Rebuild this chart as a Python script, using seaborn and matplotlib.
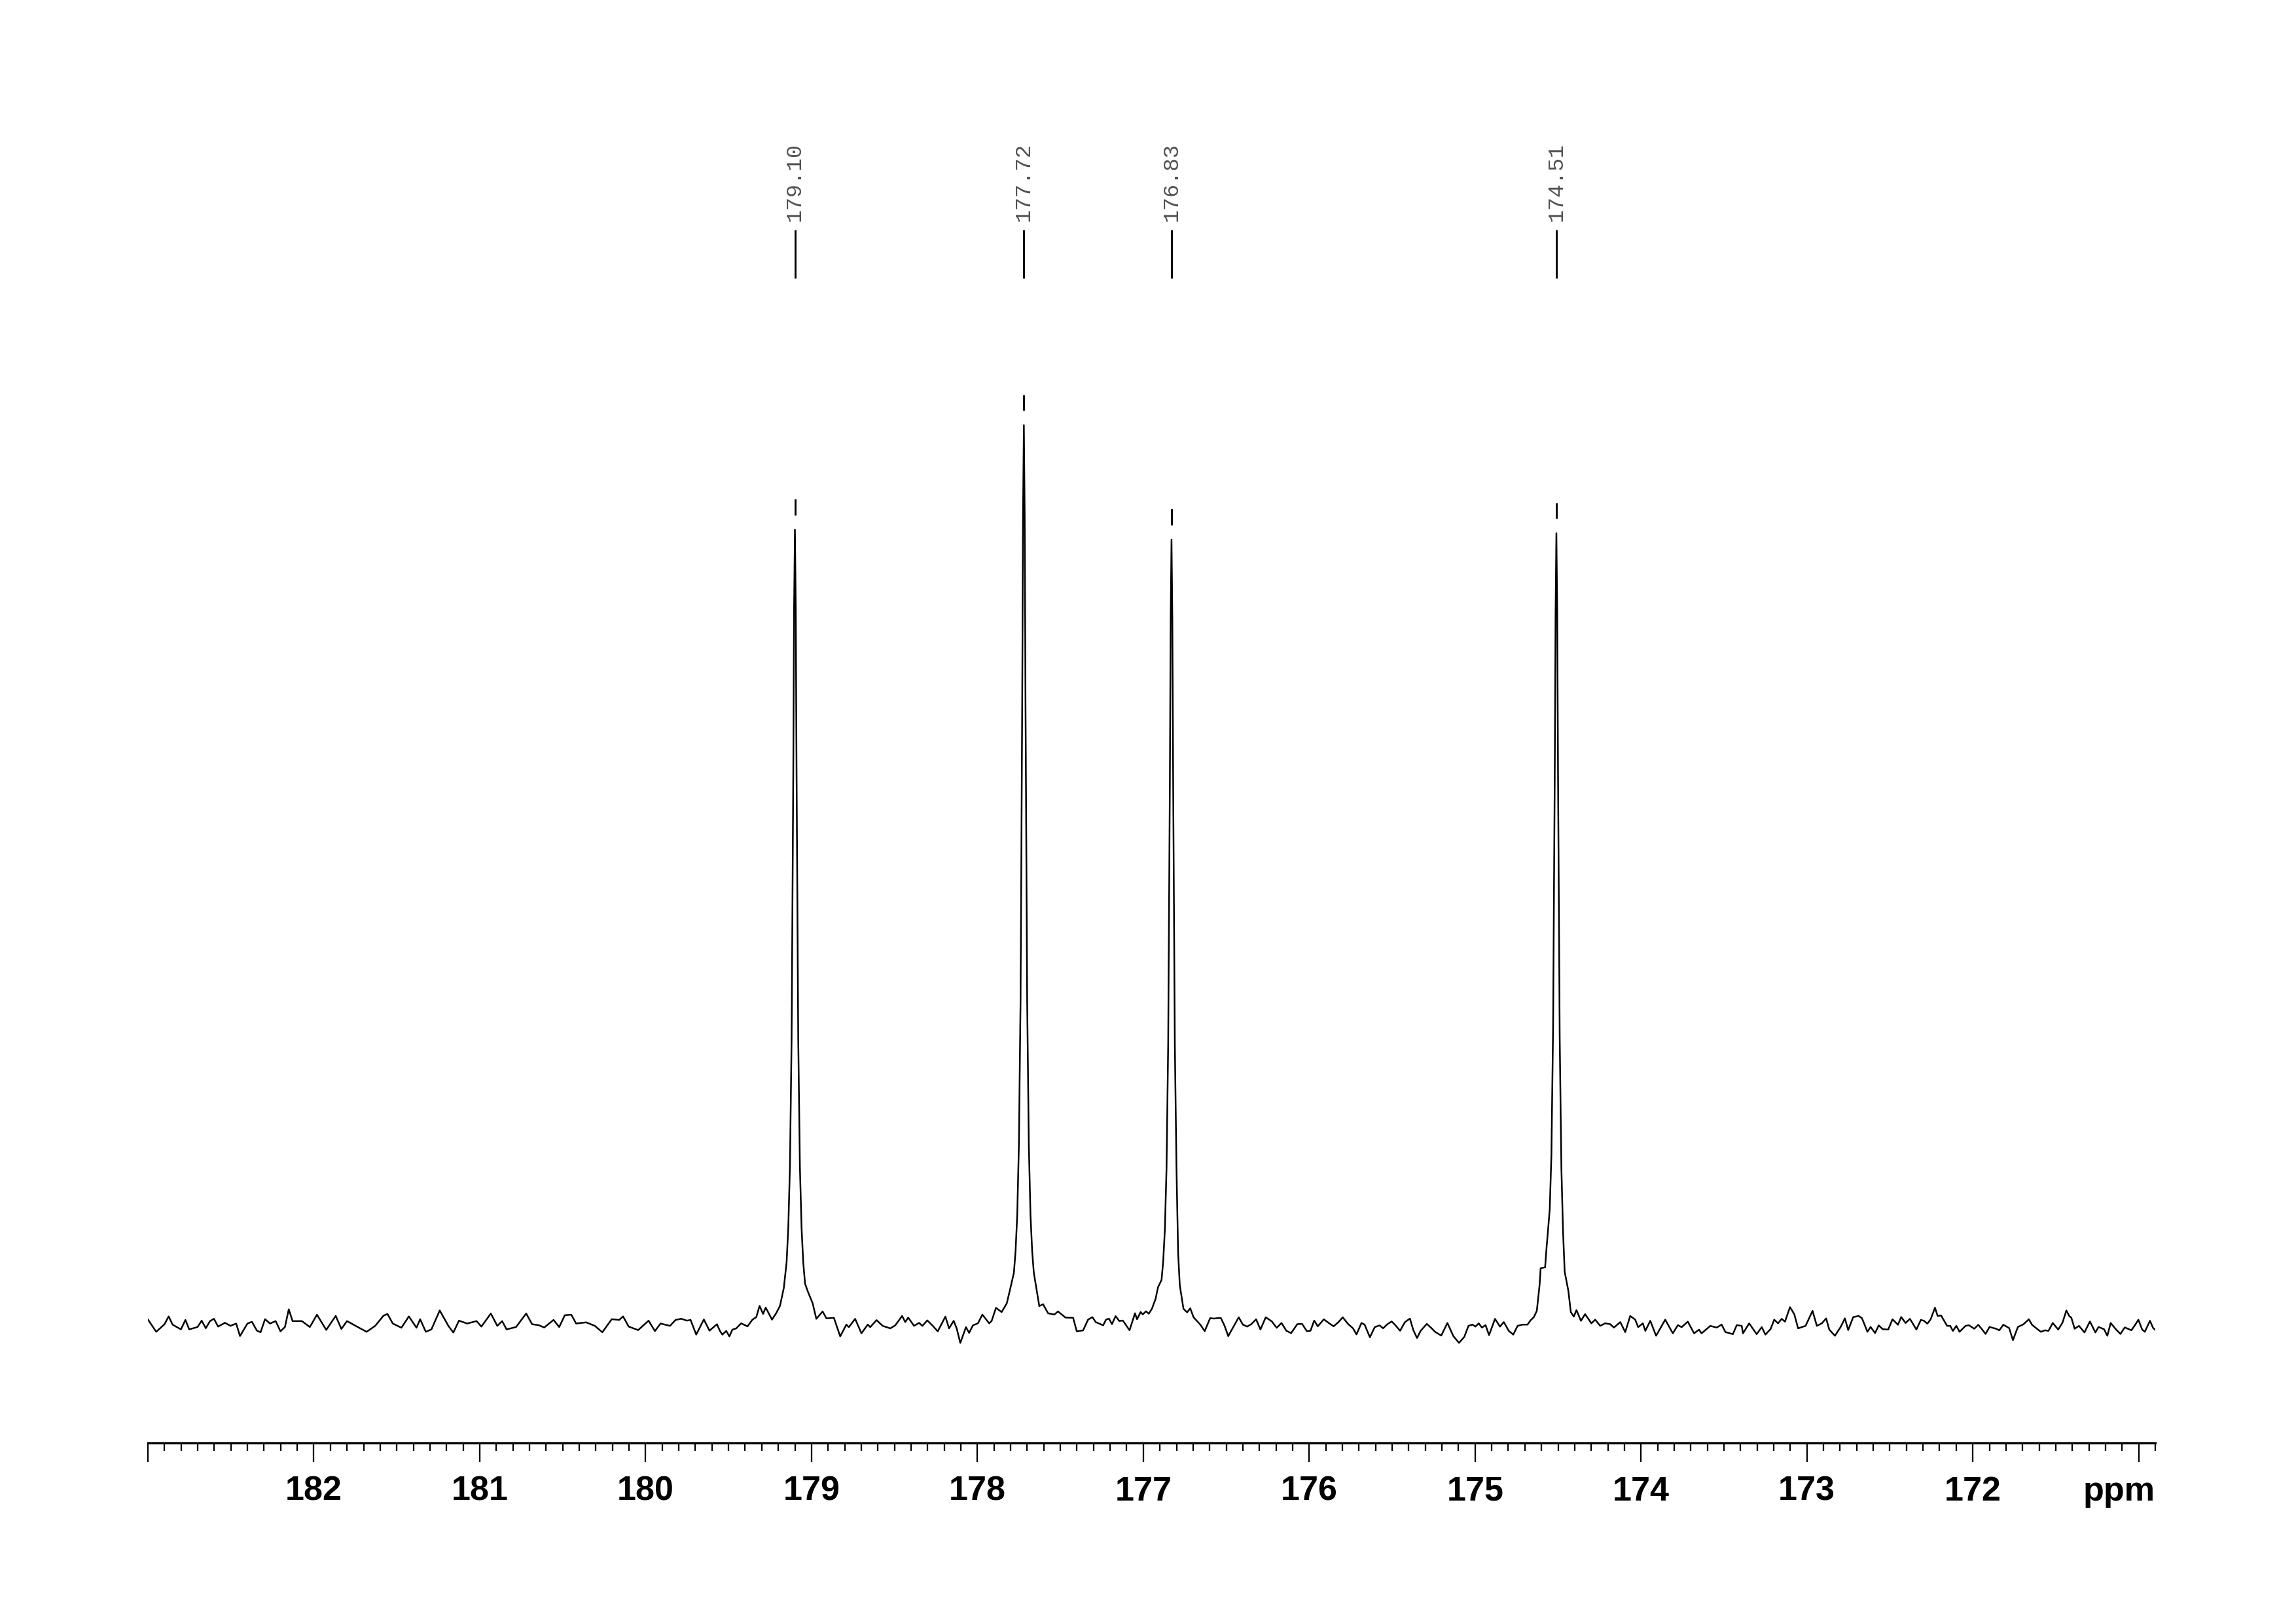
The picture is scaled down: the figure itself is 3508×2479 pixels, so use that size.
import numpy as np
import pandas as pd
import matplotlib
matplotlib.use("Agg")
import matplotlib.pyplot as plt
import seaborn as sns
from matplotlib.ticker import FixedLocator, MultipleLocator

# ---------------- data ----------------
# intensity scale: tallest peak (177.72 ppm) = 100, baseline = 0

# baseline 183.0 -> 179.57 ppm
base_a_ppm = [183.000, 182.950, 182.900, 182.875, 182.851, 182.801, 182.774, 182.751, 182.701, 182.676,
              182.651, 182.626, 182.602, 182.577, 182.536, 182.502, 182.468, 182.445, 182.400, 182.373,
              182.343, 182.321, 182.294, 182.264, 182.230, 182.201, 182.174, 182.151, 182.128, 182.072,
              182.024, 181.981, 181.925, 181.868, 181.834, 181.800, 181.743, 181.682, 181.630, 181.580,
              181.556, 181.524, 181.472, 181.427, 181.381, 181.359, 181.325, 181.291, 181.241, 181.189,
              181.159, 181.125, 181.076, 181.019, 180.990, 180.933, 180.894, 180.865, 180.838, 180.781,
              180.720, 180.684, 180.645, 180.611, 180.555, 180.521, 180.487, 180.448, 180.419, 180.358,
              180.306, 180.261, 180.204, 180.159, 180.136, 180.102, 180.045, 179.982, 179.944, 179.910,
              179.853, 179.819, 179.785, 179.751, 179.729, 179.695, 179.649, 179.615, 179.570]
base_a_int = [0.71, -0.66, 0.18, 1.05, 0.13, -0.39, 0.66, -0.39, -0.13, 0.58,
              -0.26, 0.53, 0.79, -0.08, 0.34, 0.00, 0.26, -1.13, 0.26, 0.45,
              -0.53, -0.71, 0.74, 0.26, 0.53, -0.61, -0.13, 1.84, 0.53, 0.53,
              -0.13, 1.24, -0.45, 1.11, -0.34, 0.53, -0.05, -0.66, 0.00, 1.13,
              1.32, 0.26, -0.21, 1.05, -0.21, 0.74, -0.66, -0.39, 1.71, 0.00,
              -0.74, 0.58, 0.26, 0.53, -0.08, 1.37, 0.00, 0.53, -0.39, -0.13,
              1.37, 0.18, 0.08, -0.18, 0.66, -0.13, 1.18, 1.24, 0.26, 0.39,
              0.00, -0.71, 0.74, 0.66, 1.05, -0.08, -0.47, 0.58, -0.58, 0.26,
              0.00, 0.66, 0.79, 0.58, 0.66, -0.97, 0.71, -0.53, 0.18]

# baseline 179.55 -> 179.17 ppm (left foot of 179.10)
base_b_ppm = [179.552, 179.537, 179.514, 179.495, 179.477, 179.454, 179.424, 179.386, 179.356, 179.333,
              179.313, 179.292, 179.276, 179.238, 179.212, 179.190, 179.167]
base_b_int = [-0.56, -0.97, -0.56, -1.17, -0.42, -0.28, 0.28, -0.06, 0.69, 0.97,
              2.22, 1.33, 2.03, 0.69, 1.44, 2.22, 4.20]

# peak 179.10
peak1_ppm = [179.150, 179.140, 179.130, 179.120, 179.110, 179.105, 179.100, 179.095, 179.090, 179.080,
             179.070, 179.060, 179.050]
peak1_int = [7.1, 10.9, 17.7, 31.9, 61.1, 79.7, 88.4, 79.7, 61.1, 31.9, 17.7, 10.9, 7.1]

# baseline 179.04 -> 177.80 ppm
base_c_ppm = [179.039, 179.024, 178.993, 178.971, 178.933, 178.910, 178.865, 178.827, 178.790, 178.775,
              178.737, 178.699, 178.661, 178.646, 178.608, 178.571, 178.525, 178.495, 178.454, 178.435,
              178.417, 178.382, 178.352, 178.332, 178.302, 178.269, 178.239, 178.193, 178.171, 178.143,
              178.125, 178.103, 178.069, 178.050, 178.027, 177.997, 177.970, 177.929, 177.914, 177.888,
              177.854, 177.823, 177.801]
base_c_int = [4.70, 3.90, 2.50, 0.78, 1.60, 0.83, 0.89, -1.17, 0.14, -0.14,
              0.78, -0.83, 0.14, -0.14, 0.64, 0.00, -0.28, 0.06, 1.10, 0.42,
              0.92, 0.00, 0.33, 0.00, 0.61, 0.00, -0.61, 1.03, -0.28, 0.56,
              -0.28, -1.90, -0.14, -0.78, 0.06, 0.28, 1.25, 0.28, 0.56, 2.00,
              1.53, 2.50, 4.20]

# peak 177.72
peak2_ppm = [177.780, 177.770, 177.760, 177.750, 177.740, 177.730, 177.725, 177.720, 177.715, 177.710,
             177.700, 177.690, 177.680, 177.670, 177.660]
peak2_int = [5.9, 8.3, 12.3, 20.0, 36.0, 69.0, 90.0, 100.0, 90.0, 69.0, 36.0, 20.0, 12.3, 8.3, 5.9]

# baseline 177.64 -> 176.91 ppm
base_d_ppm = [177.642, 177.627, 177.604, 177.574, 177.537, 177.514, 177.469, 177.423, 177.401, 177.363,
              177.333, 177.307, 177.287, 177.242, 177.225, 177.207, 177.189, 177.167, 177.145, 177.123,
              177.083, 177.050, 177.038, 177.016, 177.003, 176.984, 176.967, 176.948, 176.926, 176.911]
base_d_int = [3.90, 2.20, 2.40, 1.40, 1.25, 1.60, 0.92, 0.89, -0.61, -0.50,
              0.69, 0.97, 0.42, 0.06, 0.68, 0.81, 0.19, 1.08, 0.54, 0.59,
              -0.49, 1.40, 0.73, 1.54, 1.27, 1.62, 1.35, 1.90, 3.00, 4.30]

# peak 176.83
peak3_ppm = [176.890, 176.880, 176.870, 176.860, 176.850, 176.840, 176.835, 176.830, 176.825, 176.820,
             176.810, 176.800, 176.790]
peak3_int = [5.1, 7.2, 10.7, 17.5, 31.4, 60.2, 78.6, 87.3, 78.6, 60.2, 31.4, 17.5, 8.0]

# baseline 176.78 -> 174.57 ppm
base_e_ppm = [176.780, 176.758, 176.736, 176.717, 176.697, 176.670, 176.653, 176.630, 176.597, 176.573,
              176.554, 176.532, 176.510, 176.488, 176.466, 176.425, 176.400, 176.374, 176.349, 176.320,
              176.294, 176.262, 176.225, 176.196, 176.167, 176.138, 176.109, 176.072, 176.043, 176.014,
              175.992, 175.970, 175.948, 175.912, 175.882, 175.853, 175.824, 175.798, 175.766, 175.736,
              175.715, 175.685, 175.666, 175.634, 175.605, 175.576, 175.554, 175.532, 175.503, 175.481,
              175.452, 175.423, 175.393, 175.372, 175.350, 175.328, 175.291, 175.262, 175.240, 175.204,
              175.167, 175.131, 175.097, 175.065, 175.040, 175.016, 174.998, 174.978, 174.959, 174.937,
              174.916, 174.880, 174.850, 174.827, 174.797, 174.770, 174.744, 174.714, 174.684, 174.666,
              174.646, 174.628, 174.611, 174.605, 174.578, 174.569]
base_e_int = [4.50, 1.90, 1.50, 1.95, 0.95, 0.41, 0.05, -0.59, 0.86, 0.81,
              0.86, 0.86, 0.00, -1.14, -0.41, 0.95, 0.14, -0.08, 0.19, 0.73,
              -0.41, 0.95, 0.49, -0.22, 0.32, -0.54, -0.81, 0.19, 0.22, -0.59,
              -0.54, 0.59, -0.05, 0.73, 0.32, -0.05, 0.41, 0.95, 0.22, -0.27,
              -0.95, 0.32, 0.14, -1.27, -0.14, 0.05, -0.27, 0.14, 0.49, 0.08,
              -0.54, 0.41, 0.81, -0.49, -1.35, -0.54, 0.22, -0.27, -0.68, -1.08,
              0.32, -1.14, -1.89, -1.22, 0.00, 0.14, -0.08, 0.28, -0.19, 0.08,
              -1.03, 0.78, -0.08, 0.42, -0.56, -0.97, 0.00, 0.14, 0.14, 0.61,
              0.97, 1.67, 4.60, 6.40, 6.50, 8.75]

# peak 174.51
peak4_ppm = [174.560, 174.550, 174.540, 174.530, 174.520, 174.515, 174.510, 174.505, 174.500, 174.490,
             174.480, 174.470]
peak4_int = [10.7, 13.0, 19.0, 33.0, 61.0, 79.0, 88.0, 79.0, 61.0, 32.0, 17.6, 10.5]

# baseline 174.46 -> 170.89 ppm
base_f_ppm = [174.460, 174.438, 174.423, 174.405, 174.389, 174.362, 174.337, 174.299, 174.276, 174.246,
              174.216, 174.186, 174.163, 174.125, 174.095, 174.065, 174.035, 174.017, 173.989, 173.974,
              173.944, 173.909, 173.854, 173.808, 173.778, 173.755, 173.718, 173.680, 173.650, 173.635,
              173.582, 173.544, 173.514, 173.491, 173.446, 173.423, 173.393, 173.385, 173.348, 173.303,
              173.272, 173.250, 173.219, 173.197, 173.174, 173.152, 173.132, 173.102, 173.076, 173.053,
              173.008, 172.966, 172.940, 172.910, 172.884, 172.865, 172.831, 172.797, 172.771, 172.751,
              172.721, 172.688, 172.668, 172.635, 172.616, 172.589, 172.567, 172.543, 172.510, 172.484,
              172.451, 172.432, 172.405, 172.379, 172.340, 172.313, 172.294, 172.274, 172.254, 172.228,
              172.212, 172.191, 172.155, 172.136, 172.120, 172.099, 172.080, 172.044, 172.024, 171.991,
              171.967, 171.945, 171.923, 171.899, 171.860, 171.840, 171.816, 171.781, 171.758, 171.728,
              171.695, 171.662, 171.643, 171.610, 171.590, 171.564, 171.544, 171.518, 171.485, 171.459,
              171.436, 171.419, 171.406, 171.386, 171.360, 171.327, 171.294, 171.261, 171.242, 171.209,
              171.189, 171.169, 171.136, 171.110, 171.084, 171.044, 171.021, 171.002, 170.979, 170.963,
              170.932, 170.913, 170.893]
base_f_int = [6.00, 3.90, 1.53, 1.03, 1.75, 0.56, 1.30, 0.28, 0.69, 0.00,
              0.28, 0.19, -0.19, 0.42, -0.69, 1.10, 0.69, -0.14, 0.28, -0.56,
              0.56, -1.10, 0.69, -0.83, 0.08, -0.14, 0.47, -0.83, -0.42, -0.83,
              0.00, -0.19, 0.14, -0.69, -0.92, 0.08, 0.00, -0.83, 0.28, -0.92,
              -0.14, -0.97, -0.36, 0.69, 0.28, 0.78, 0.47, 2.08, 1.30, -0.28,
              0.00, 1.67, 0.00, 0.28, 0.83, -0.42, -1.10, -0.14, 0.83, -0.47,
              0.97, 1.10, 0.85, -0.66, -0.12, -0.80, 0.05, -0.37, -0.41, 0.73,
              0.12, 0.98, 0.32, 0.78, -0.41, 0.66, 0.56, 0.24, 0.73, 2.02,
              1.10, 1.15, 0.00, 0.00, -0.56, 0.00, -0.66, 0.00, 0.07, -0.32,
              0.12, -0.37, -0.90, -0.12, -0.32, -0.49, 0.12, -0.24, -1.59, -0.12,
              0.17, 0.73, 0.12, -0.37, -0.66, -0.49, -0.56, 0.32, -0.41, 0.37,
              1.71, 1.10, 0.90, -0.32, 0.00, -0.73, 0.49, -0.73, -0.12, -0.37,
              -1.10, 0.32, -0.41, -0.90, -0.17, -0.49, 0.12, 0.68, -0.41, -0.66,
              0.56, -0.24, -0.56]

# peak annotations
peak_ppm = [179.10, 177.72, 176.83, 174.51]
peak_labels = ["179.10", "177.72", "176.83", "174.51"]
peak_height = [88.4, 100.0, 87.3, 88.0]

# axis ticks
major_ticks = [171, 172, 173, 174, 175, 176, 177, 178, 179, 180, 181, 182, 183]
major_labels = ["", "172", "173", "174", "175", "176", "177", "178", "179", "180", "181", "182", ""]

# ---------------- figure ----------------
sns.set_theme(style="white")
plt.rcParams["font.family"] = ["Liberation Sans", "DejaVu Sans"]

W, H = 3508, 2479
fig = plt.figure(figsize=(W / 300, H / 300), dpi=300)
fig.patch.set_facecolor("white")

ax_left, ax_right, ax_bottom = 226, 3293, 2204
ax = fig.add_axes([ax_left / W, (H - ax_bottom) / H, (ax_right - ax_left) / W, ax_bottom / H])
ax.set_facecolor("white")

ppm_all = np.concatenate([base_a_ppm, base_b_ppm, peak1_ppm, base_c_ppm, peak2_ppm, base_d_ppm,
                          peak3_ppm, base_e_ppm, peak4_ppm, base_f_ppm])
int_all = np.concatenate([base_a_int, base_b_int, peak1_int, base_c_int, peak2_int, base_d_int,
                          peak3_int, base_e_int, peak4_int, base_f_int])
df = pd.DataFrame({"ppm": ppm_all, "intensity": int_all})

sns.lineplot(data=df, x="ppm", y="intensity", ax=ax, color="black", linewidth=0.6,
             estimator=None, errorbar=None, sort=True)

ax.set_xlim(183.0, 170.9)
ax.set_ylim(-13.0, 147.2)

# peak markers and labels
for p, lab, h in zip(peak_ppm, peak_labels, peak_height):
    ax.vlines(p, h + 1.6, h + 3.4, color="black", linewidth=0.7)
    ax.vlines(p, 116.3, 121.7, color="black", linewidth=0.7)
    ax.text(p, 122.6, lab, rotation=90, ha="center", va="bottom",
            family=["Liberation Mono", "DejaVu Sans Mono"], fontsize=8, color="#505050")

# axes styling
for side in ["left", "top", "right"]:
    ax.spines[side].set_visible(False)
ax.spines["bottom"].set_color("black")
ax.spines["bottom"].set_linewidth(0.8)
ax.set_yticks([])
ax.set_xlabel("")
ax.set_ylabel("")

ax.xaxis.set_major_locator(FixedLocator(major_ticks))
ax.set_xticklabels(major_labels)
ax.xaxis.set_minor_locator(MultipleLocator(0.1))
ax.tick_params(axis="x", which="major", direction="out", length=7, width=0.55, color="black",
               pad=5.0, labelsize=12.5, labelcolor="black", bottom=True)
ax.tick_params(axis="x", which="minor", direction="out", length=2.8, width=0.55, color="black",
               bottom=True)
for t in ax.get_xticklabels():
    t.set_fontweight("bold")

ax.annotate("ppm", xy=(1.0, 0.0), xycoords="axes fraction", xytext=(0, -(7 + 5.0)),
            textcoords="offset points", ha="right", va="top", fontsize=12.5, fontweight="bold",
            color="black")

fig.savefig("out.png", dpi=300, facecolor="white")
